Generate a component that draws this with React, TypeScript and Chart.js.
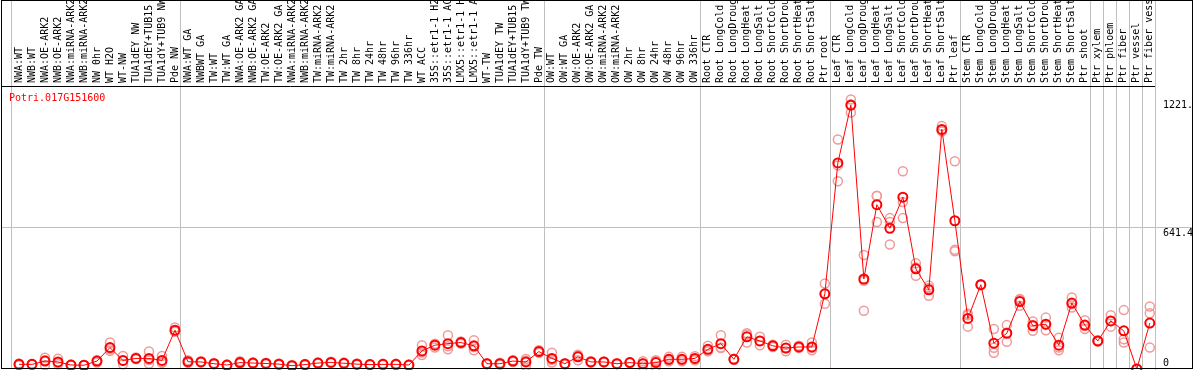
import React, { useEffect, useRef } from 'react';
import { Chart, registerables } from 'chart.js';

Chart.register(...registerables);

const categories = [
  'NWA:WT', 'NWB:WT', 'NWA:OE-ARK2', 'NWB:OE-ARK2', 'NWA:miRNA-ARK2', 'NWB:miRNA-ARK2',
  'NW 0hr', 'WT H2O', 'WT-NW', 'TUA1dEY NW', 'TUA1dEY+TUB15 NW', 'TUA1dY+TUB9 NW', 'Pde NW',
  'NWA:WT GA', 'NWBWT GA', 'TW:WT', 'TW:WT GA', 'NWA:OE-ARK2 GA', 'NWB:OE-ARK2 GA',
  'TW:OE-ARK2', 'TW:OE-ARK2 GA', 'NWA:miRNA-ARK2', 'NWB:miRNA-ARK2', 'TW:miRNA-ARK2',
  'TW:miRNA-ARK2', 'TW 2hr', 'TW 8hr', 'TW 24hr', 'TW 48hr', 'TW 96hr', 'TW 336hr',
  'WT ACC', '35S::etr1-1 H2O', '35S::etr1-1 ACC', 'LMX5::etr1-1 H2O', 'LMX5::etr1-1 ACC',
  'WT-TW', 'TUA1dEY TW', 'TUA1dEY+TUB15 TW', 'TUA1dY+TUB9 TW', 'Pde TW',
  'OW:WT', 'OW:WT GA', 'OW:OE-ARK2', 'OW:OE-ARK2 GA', 'OW:miRNA-ARK2', 'OW:miRNA-ARK2',
  'OW 2hr', 'OW 8hr', 'OW 24hr', 'OW 48hr', 'OW 96hr', 'OW 336hr',
  'Root CTR', 'Root LongCold', 'Root LongDrought', 'Root LongHeat', 'Root LongSalt',
  'Root ShortCold', 'Root ShortDrought', 'Root ShortHeat', 'Root ShortSalt', 'Ptr root',
  'Leaf CTR', 'Leaf LongCold', 'Leaf LongDrought', 'Leaf LongHeat', 'Leaf LongSalt',
  'Leaf ShortCold', 'Leaf ShortDrought', 'Leaf ShortHeat', 'Leaf ShortSalt', 'Ptr leaf',
  'Stem CTR', 'Stem LongCold', 'Stem LongDrought', 'Stem LongHeat', 'Stem LongSalt',
  'Stem ShortCold', 'Stem ShortDrought', 'Stem ShortHeat', 'Stem ShortSalt', 'Ptr shoot',
  'Ptr xylem', 'Ptr phloem', 'Ptr fiber', 'Ptr vessel', 'Ptr fiber vessel',
];

const meanValues = [
  21, 21, 36, 32, 18, 17, 36, 97, 39, 48, 48, 39, 176,
  33, 32, 24, 18, 29, 27, 25, 22, 15, 20, 27, 30, 26, 22, 20, 21, 21, 18,
  82, 108, 115, 120, 105, 24, 24, 36, 32, 79,
  48, 24, 55, 32, 32, 24, 29, 24, 29, 44, 44, 48,
  89, 115, 44, 146, 127, 105, 95, 100, 100, 341,
  934, 1196, 408, 745, 638, 779, 454, 359, 1086, 672,
  229, 382, 117, 162, 306, 196, 203, 108, 299, 199,
  127, 218, 173, 0, 208,
];

const rep1 = [
  20, 20, 51, 47, 17, 16, 29, 120, 59, 45, 79, 59, 188,
  33, 32, 24, 18, 29, 27, 25, 22, 15, 20, 27, 30, 26, 22, 20, 21, 21, 18,
  108, 97, 153, 120, 130, 24, 24, 36, 14, 79,
  74, 24, 40, 32, 32, 24, 29, 11, 11, 35, 35, 40,
  105, 153, 44, 162, 146, 105, 110, 100, 120, 387,
  1040, 1221.7, 517, 784, 684, 896, 479, 378, 1101, 942,
  244, 384, 181, 199, 317, 215, 233, 142, 324, 221,
  127, 244, 267, 0, 283,
];

const rep2 = [
  25, 23, 17, 21, 20, 18, 40, 89, 21, 52, 24, 30, 170,
  40, 35, 27, 20, 35, 30, 28, 25, 18, 23, 30, 33, 29, 25, 22, 24, 24, 20,
  75, 115, 89, 125, 85, 26, 28, 40, 45, 85,
  29, 26, 60, 35, 34, 26, 31, 35, 40, 55, 55, 58,
  80, 97, 46, 120, 108, 110, 80, 105, 85, 296,
  851, 1200, 400, 666, 564, 684, 423, 332, 1080, 540,
  192, 380, 74, 123, 287, 173, 176, 85, 279, 181,
  130, 192, 135, 0, 253,
];

const rep3 = [
  17, 19, 40, 28, 16, 17, 39, 82, 37, 47, 41, 28, 170,
  28, 30, 22, 16, 25, 24, 22, 19, 12, 17, 24, 27, 23, 19, 18, 18, 18, 16,
  63, 112, 103, 115, 100, 22, 20, 32, 37, 73,
  41, 22, 65, 29, 30, 22, 27, 26, 36, 42, 42, 46,
  82, 95, 42, 156, 127, 100, 95, 95, 95, 340,
  923, 1163, 264, 785, 666, 757, 460, 367, 1077, 534,
  251, 382, 96, 164, 314, 200, 200, 97, 294, 195,
  124, 218, 120, 0, 97,
];

// index of the last category in each block (-1 = before the first category)
const groupEnds = [-1, 12, 40, 52, 62, 72, 82, 83, 84, 85, 86, 87];

const yTickValues = [0, 641.4, 1221.7];
const yTickLabels = ['0', '641.4', '1221.'];
const geneTitle = 'Potri.017G151600';

const MONO = '"DejaVu Sans Mono", "Liberation Mono", monospace';
const SEP_OFFSET = 0.4;
const X_MIN = -1.3077;
const X_MAX = 87.4;
const Y_MAX = 1282.8;

const toPoints = (arr: number[]) => arr.map((v, i) => ({ x: i, y: v }));

const zeroPadding = (scale: any) => {
  scale.paddingLeft = 0;
  scale.paddingRight = 0;
  scale.paddingTop = 0;
  scale.paddingBottom = 0;
};

const framePlugin = {
  id: 'frameAndTitle',
  afterDraw(chart: any) {
    const { ctx, chartArea } = chart;
    ctx.save();
    ctx.strokeStyle = '#000';
    ctx.lineWidth = 1;
    ctx.strokeRect(1.5, 0.5, 1191, 368);
    ctx.fillStyle = '#ff0000';
    ctx.font = `10px ${MONO}`;
    ctx.textBaseline = 'middle';
    ctx.textAlign = 'left';
    ctx.fillText(geneTitle, chartArea.left + 7, chartArea.top + 12);
    ctx.restore();
  },
};

export default function App() {
  const canvasRef = useRef<HTMLCanvasElement | null>(null);

  useEffect(() => {
    const canvas = canvasRef.current;
    if (!canvas) return;

    const xTicks: number[] = [];
    categories.forEach((_, i) => xTicks.push(i));
    groupEnds.forEach((g) => xTicks.push(g + SEP_OFFSET));
    xTicks.sort((a, b) => a - b);

    const repStyle = {
      showLine: false,
      pointRadius: 4.5,
      pointBorderWidth: 1.5,
      pointBorderColor: '#f09a9a',
      pointBackgroundColor: 'rgba(0,0,0,0)',
      borderColor: '#f09a9a',
      clip: false as const,
    };

    const chart = new Chart(canvas, {
      type: 'line',
      data: {
        datasets: [
          {
            label: 'mean',
            data: toPoints(meanValues),
            borderColor: '#ff0000',
            borderWidth: 1,
            pointRadius: 4.5,
            pointBorderWidth: 2,
            pointBorderColor: '#ff0000',
            pointBackgroundColor: 'rgba(0,0,0,0)',
            tension: 0,
            clip: false,
          },
          { label: 'rep1', data: toPoints(rep1), ...repStyle },
          { label: 'rep2', data: toPoints(rep2), ...repStyle },
          { label: 'rep3', data: toPoints(rep3), ...repStyle },
        ],
      },
      options: {
        animation: false,
        responsive: false,
        events: [],
        layout: { autoPadding: false, padding: { left: 2, right: 2, top: 0, bottom: 1 } },
        plugins: {
          legend: { display: false },
          tooltip: { enabled: false },
          title: { display: false },
        },
        scales: {
          x: {
            type: 'linear',
            position: 'top',
            min: X_MIN,
            max: X_MAX,
            afterBuildTicks: (scale: any) => {
              scale.ticks = xTicks.map((v) => ({ value: v }));
            },
            afterFit: (scale: any) => {
              scale.height = 86;
              zeroPadding(scale);
            },
            grid: {
              color: (ctx: any) =>
                ctx.tick && !Number.isInteger(ctx.tick.value) ? '#c0c0c0' : 'rgba(0,0,0,0)',
              lineWidth: 1,
              drawTicks: true,
              tickLength: 86,
            },
            border: { display: true, color: '#000000', width: 1 },
            ticks: {
              autoSkip: false,
              minRotation: 90,
              maxRotation: 90,
              padding: -83,
              labelOffset: 12,
              color: '#000000',
              font: { family: MONO, size: 10 },
              callback: (v: any) =>
                Number.isInteger(v) ? categories[v as number] : '',
            },
          },
          y: {
            type: 'linear',
            position: 'right',
            min: 0,
            max: Y_MAX,
            afterBuildTicks: (scale: any) => {
              scale.ticks = yTickValues.map((v) => ({ value: v }));
            },
            afterFit: (scale: any) => {
              scale.width = 37;
              zeroPadding(scale);
            },
            grid: {
              color: (ctx: any) =>
                ctx.tick && ctx.tick.value === yTickValues[1] ? '#c0c0c0' : 'rgba(0,0,0,0)',
              lineWidth: 1,
              drawTicks: true,
              tickLength: 37,
            },
            border: { display: true, color: '#c0c0c0', width: 1 },
            ticks: {
              autoSkip: false,
              padding: -29,
              labelOffset: 6,
              color: '#000000',
              font: { family: MONO, size: 10 },
              callback: (v: any) => {
                const idx = yTickValues.indexOf(v as number);
                const label = idx >= 0 ? yTickLabels[idx] : '';
                return idx === 0 ? [label, '', ''] : label;
              },
            },
          },
        },
      },
      plugins: [framePlugin],
    } as any);

    return () => chart.destroy();
  }, []);

  return (
    <div style={{ position: 'fixed', left: 0, top: 0, width: 1194, height: 370, background: '#fff' }}>
      <canvas ref={canvasRef} width={1194} height={370} style={{ display: 'block' }} />
    </div>
  );
}
